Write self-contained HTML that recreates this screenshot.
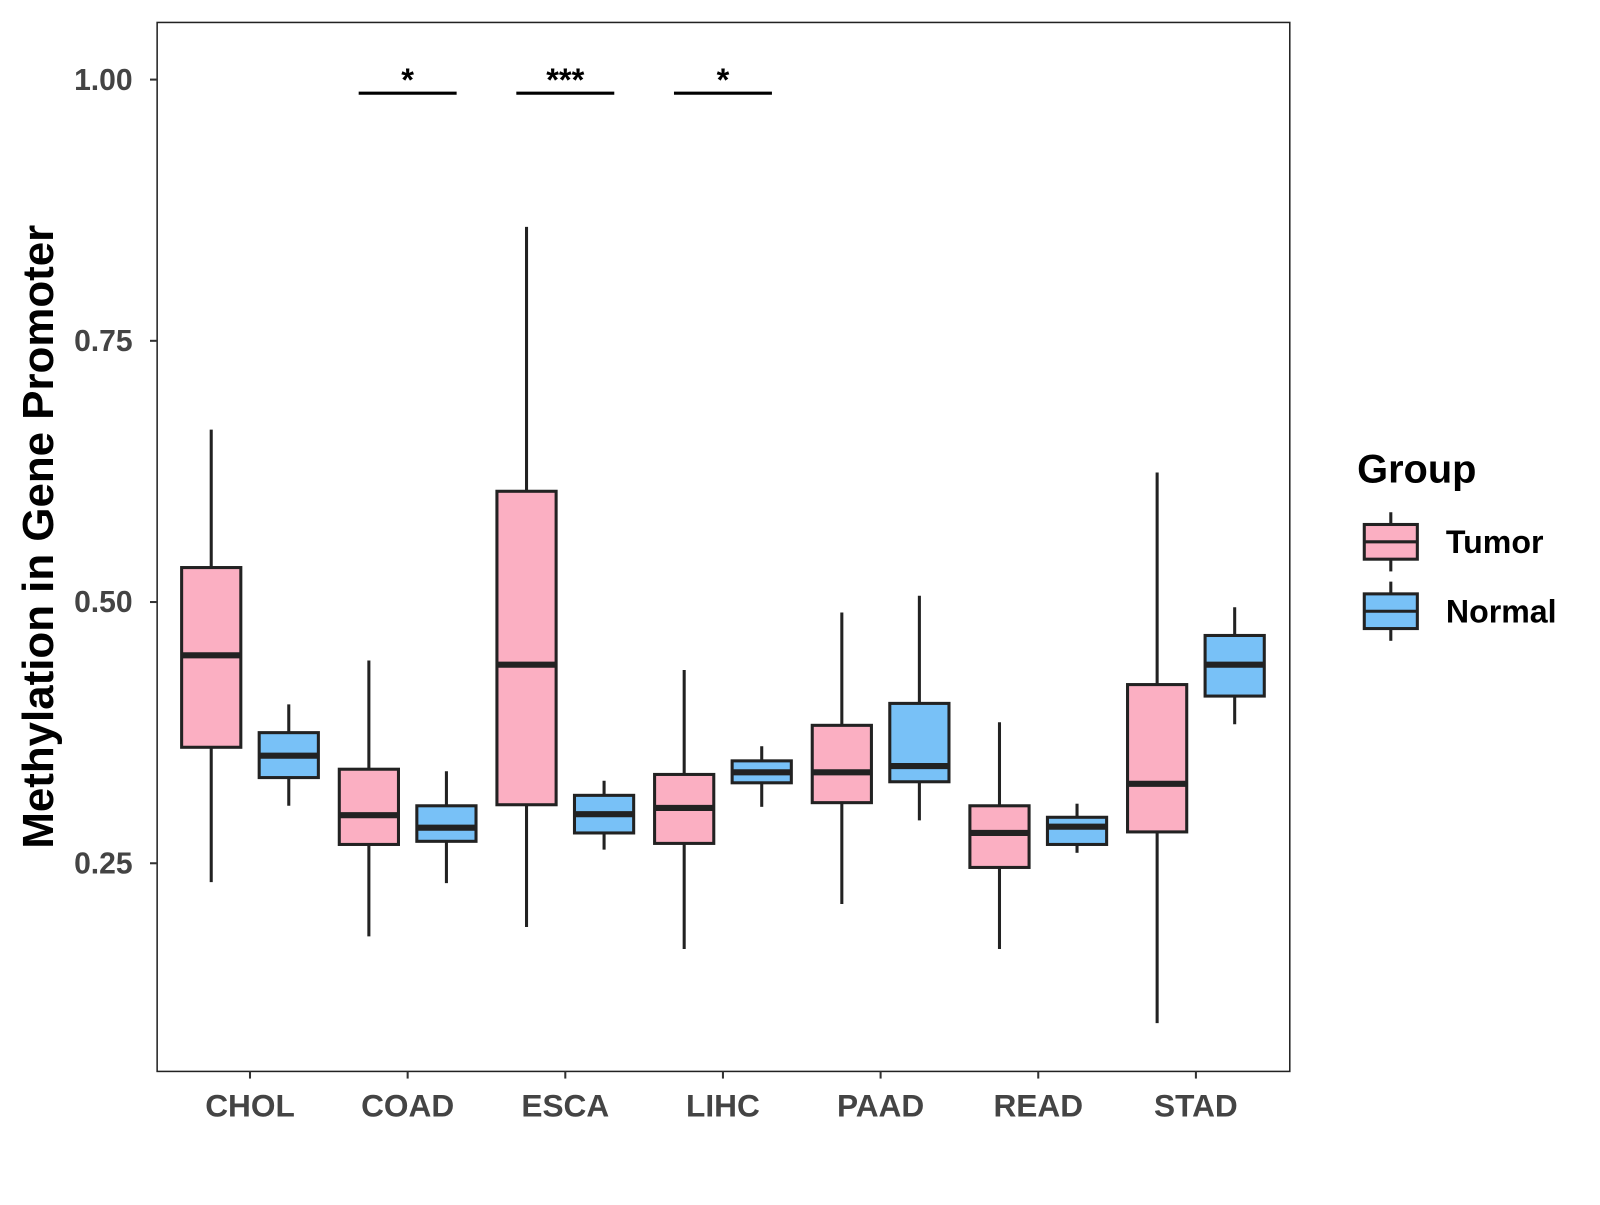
<!DOCTYPE html>
<html><head><meta charset="utf-8"><style>
body{margin:0;background:#fff}
svg text{font-family:"Liberation Sans",Arial,sans-serif;font-weight:bold}
</style></head><body>
<svg id="chart" width="1600" height="1200" xmlns="http://www.w3.org/2000/svg">
<rect width="1600" height="1200" fill="#fff"/>
<g id="plot" transform="scale(1.0204)"></g>
</svg>
<script>
const categories=["CHOL","COAD","ESCA","LIHC","PAAD","READ","STAD"];
const groups=["Tumor","Normal"];
// [low, q1, median, q3, high]
const tumorStats=[[0.232,0.361,0.449,0.533,0.665],[0.180,0.268,0.296,0.340,0.444],[0.189,0.306,0.440,0.606,0.859],[0.168,0.269,0.303,0.335,0.435],[0.211,0.308,0.337,0.382,0.490],[0.168,0.246,0.279,0.305,0.385],[0.097,0.280,0.326,0.421,0.624]];
const normalStats=[[0.305,0.332,0.353,0.375,0.402],[0.231,0.271,0.284,0.305,0.338],[0.263,0.279,0.297,0.315,0.329],[0.304,0.327,0.337,0.348,0.362],[0.291,0.328,0.343,0.403,0.506],[0.260,0.268,0.285,0.294,0.307],[0.383,0.410,0.440,0.468,0.495]];
const yTicks=[0.25,0.50,0.75,1.00];
const sigCategories=["COAD","ESCA","LIHC"];
const sigLabels=["*","***","*"];
const sigLevel=0.987;

const NS="http://www.w3.org/2000/svg";
const g=document.getElementById('plot');
const L=154,R=1264,T=22,B=1050;
const y=v=>78+(1-v)*1024;
const x=i=>245+i*154.5;
const colors={Tumor:"#FBAFC2",Normal:"#78C1F7"};
function el(tag,attrs,parent){const e=document.createElementNS(NS,tag);for(const k in attrs)e.setAttribute(k,attrs[k]);(parent||g).appendChild(e);return e;}
function txt(s,attrs){const e=el('text',attrs);e.textContent=s;return e;}

let f=el('rect',{x:L,y:T,width:R-L,height:B-T,fill:"none",stroke:"#222","stroke-width":1.5});



yTicks.forEach(v=>{
  let t=el('line',{x1:L-7,x2:L,y1:y(v),y2:y(v),stroke:"#333","stroke-width":2});
  
  
  let l=txt(v.toFixed(2),{x:L-24,y:y(v)+10,"text-anchor":"end","font-size":29.5,fill:"#444"});
  
  
});
categories.forEach((c,i)=>{
  let t=el('line',{x1:x(i),x2:x(i),y1:B,y2:B+7,stroke:"#333","stroke-width":2});
  
  
  let l=txt(c,{x:x(i),y:B+44,"text-anchor":"middle","font-size":31,fill:"#444"});
  
  
});

function box(cx,s,col,name){
  const w=58;
  let wl=el('line',{x1:cx,x2:cx,y1:y(s[0]),y2:y(s[4]),stroke:"#222","stroke-width":3});
  
  
  let r=el('rect',{x:cx-w/2,y:y(s[3]),width:w,height:y(s[1])-y(s[3]),fill:col,stroke:"#222","stroke-width":3});
  
  
  let m=el('line',{x1:cx-w/2,x2:cx+w/2,y1:y(s[2]),y2:y(s[2]),stroke:"#222","stroke-width":6});
  
  
}
categories.forEach((c,i)=>{
  box(x(i)-38,tumorStats[i],colors.Tumor,c.toLowerCase()+'-tumor');
  box(x(i)+38,normalStats[i],colors.Normal,c.toLowerCase()+'-normal');
});
sigCategories.forEach((c,k)=>{
  const i=categories.indexOf(c);
  let b=el('line',{x1:x(i)-48,x2:x(i)+48,y1:y(sigLevel),y2:y(sigLevel),stroke:"#000","stroke-width":3});
  
  
  let s=txt(sigLabels[k],{x:x(i),y:y(sigLevel)-2,"text-anchor":"middle","font-size":32,fill:"#000"});
  
  
});
let yt=txt("Methylation in Gene Promoter",{x:0,y:0,transform:"translate(52,526) rotate(-90)","text-anchor":"middle","font-size":43,fill:"#000"});


let lt=txt("Group",{x:1330,y:473,"font-size":39,fill:"#000"});


groups.forEach((gname,k)=>{
  const cy=531+k*68;
  let ln=el('line',{x1:1363,x2:1363,y1:cy-29,y2:cy+29,stroke:"#222","stroke-width":3});
  
  
  let r=el('rect',{x:1337,y:cy-17,width:52,height:34,fill:colors[gname],stroke:"#222","stroke-width":3});
  
  
  let m=el('line',{x1:1337,x2:1389,y1:cy,y2:cy,stroke:"#222","stroke-width":3});
  
  
  let t=txt(gname,{x:1417,y:cy+11,"font-size":31.5,fill:"#000"});
  
  
});
</script>
</body></html>
